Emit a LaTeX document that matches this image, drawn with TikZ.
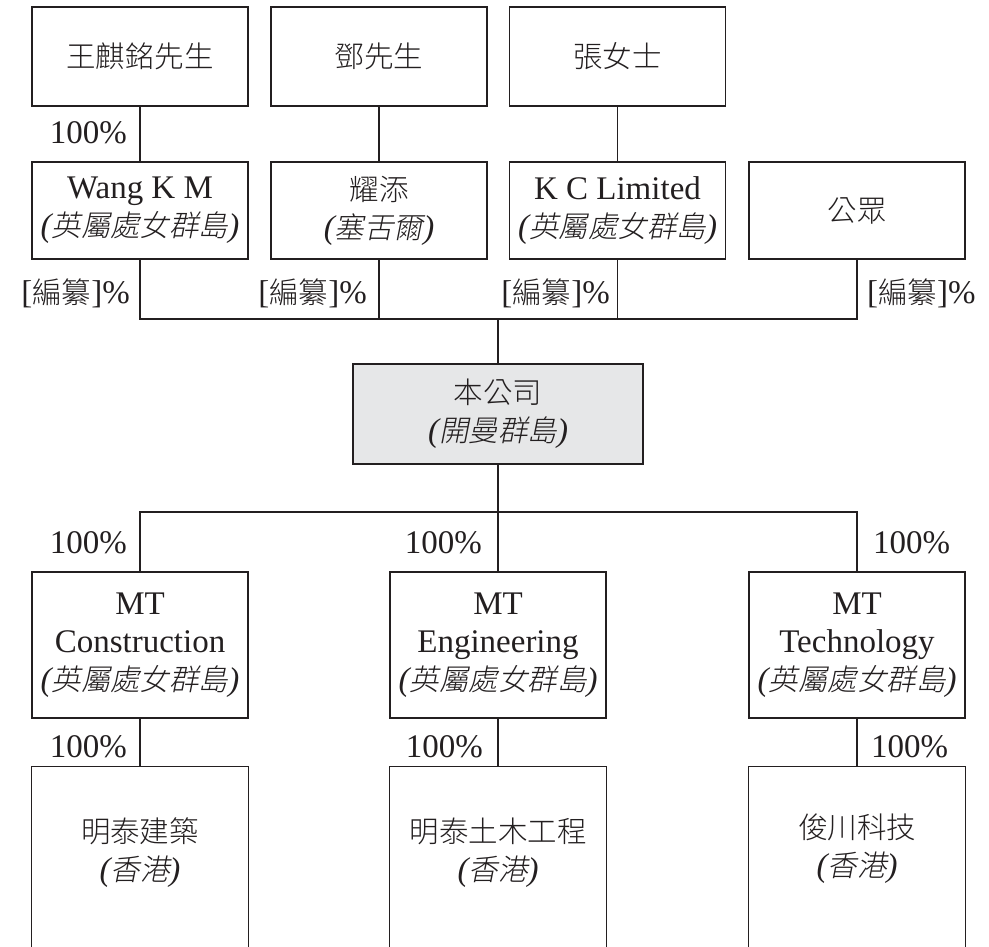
\documentclass[tikz,border=0pt]{standalone}
\usepackage{fontspec}
\setmainfont{Liberation Serif}
\newfontfamily\cjk{Noto Sans CJK TC Light}
\newfontfamily\cjkit[FakeSlant=0.2]{Noto Sans CJK TC Light}
\definecolor{ink}{HTML}{231F20}
\definecolor{cofill}{HTML}{E6E7E8}
\newcommand\zh[1]{{\cjk\fontsize{29.5}{38}\selectfont #1}}
\newcommand\zhit[1]{{\itshape(}{\cjkit\fontsize{29.5}{38}\selectfont #1}{\itshape)}}
\begin{document}
\begin{tikzpicture}[x=1pt,y=-1pt,
  box/.style={draw=ink, text=ink, line width=1.3pt, minimum width=216pt, inner sep=0pt, align=center, font=\fontsize{33}{38}\selectfont},
  bot/.style={text=ink, minimum width=216pt, inner sep=0pt, align=center, font=\fontsize{33}{38}\selectfont},
  conn/.style={draw=ink, line width=1.3pt},
  pct/.style={text=ink, font=\fontsize{33}{38}\selectfont, inner sep=0pt}]
\useasboundingbox (0,0) rectangle (989,947);
% top row
\node[box, minimum height=99pt] (t1) at (140,56.5) {\raisebox{-3pt}{\zh{王麒銘先生}}};
\node[box, minimum height=99pt] (t2) at (379,56.5) {\raisebox{-3pt}{\zh{鄧先生}}};
\node[box, minimum height=99pt] (t3) at (617.5,56.5) {\raisebox{-3pt}{\zh{張女士}}};
% second row
\node[box, minimum height=97pt] (s1) at (140,210.5) {Wang K M\\\zhit{英屬處女群島}};
\node[box, minimum height=97pt] (s2) at (379,210.5) {\zh{耀添}\\\zhit{塞舌爾}};
\node[box, minimum height=97pt] (s3) at (617.5,210.5) {K C Limited\\\zhit{英屬處女群島}};
\node[box, minimum height=97pt] (s4) at (857,210.5) {\zh{公眾}};
% company
\node[box, minimum width=290pt, minimum height=100pt, fill=cofill] (co) at (498,414) {\zh{本公司}\\\zhit{開曼群島}};
% middle row
\node[box, minimum height=146pt] (m1) at (140,645) {MT\\Construction\\\zhit{英屬處女群島}};
\node[box, minimum height=146pt] (m2) at (498,645) {MT\\Engineering\\\zhit{英屬處女群島}};
\node[box, minimum height=146pt] (m3) at (857,645) {MT\\Technology\\\zhit{英屬處女群島}};
% bottom row
\node[bot, minimum height=172pt] (b1) at (140,853) {\zh{明泰建築}\\\zhit{香港}};
\node[bot, minimum height=172pt] (b2) at (498,853) {\zh{明泰土木工程}\\\zhit{香港}};
\node[bot, minimum height=164pt] (b3) at (857,849) {\zh{俊川科技}\\\zhit{香港}};
\foreach \b in {b1,b2,b3}{
  \draw[conn] (\b.north west) ++(0,220) -- (\b.north west) -- (\b.north east) -- ++(0,220);
}
% connectors
\draw[conn] (t1.south) -- (s1.north);
\draw[conn] (t2.south) -- (s2.north);
\draw[conn] (t3.south) -- (s3.north);
\coordinate (bar) at (498,319);
\draw[conn] (s1.south) |- (bar);
\draw[conn] (s2.south) |- (bar);
\draw[conn] (s3.south) |- (bar);
\draw[conn] (s4.south) |- (bar);
\draw[conn] (bar) -- (co.north);
\coordinate (bar2) at (498,512);
\draw[conn] (co.south) -- (m2.north);
\draw[conn] (bar2) -| (m1.north);
\draw[conn] (bar2) -| (m3.north);
\draw[conn] (m1.south) -- (b1.north);
\draw[conn] (m2.south) -- (b2.north);
\draw[conn] (m3.south) -- (b3.north);
% labels
\node[pct, anchor=east] (p0) at (127,133) {100\%};
\node[pct, anchor=east] (q1) at (130,293) {[\zh{編纂}]\%};
\node[pct, anchor=east] (q2) at (367,293) {[\zh{編纂}]\%};
\node[pct, anchor=east] (q3) at (610,293) {[\zh{編纂}]\%};
\node[pct, anchor=west] (q4) at (867,293) {[\zh{編纂}]\%};
\node[pct, anchor=east] (p1) at (127,543) {100\%};
\node[pct, anchor=east] (p2) at (482,543) {100\%};
\node[pct, anchor=west] (p3) at (873,543) {100\%};
\node[pct, anchor=east] (p4) at (127,747) {100\%};
\node[pct, anchor=east] (p5) at (483,747) {100\%};
\node[pct, anchor=west] (p6) at (871,747) {100\%};
\end{tikzpicture}
\end{document}
